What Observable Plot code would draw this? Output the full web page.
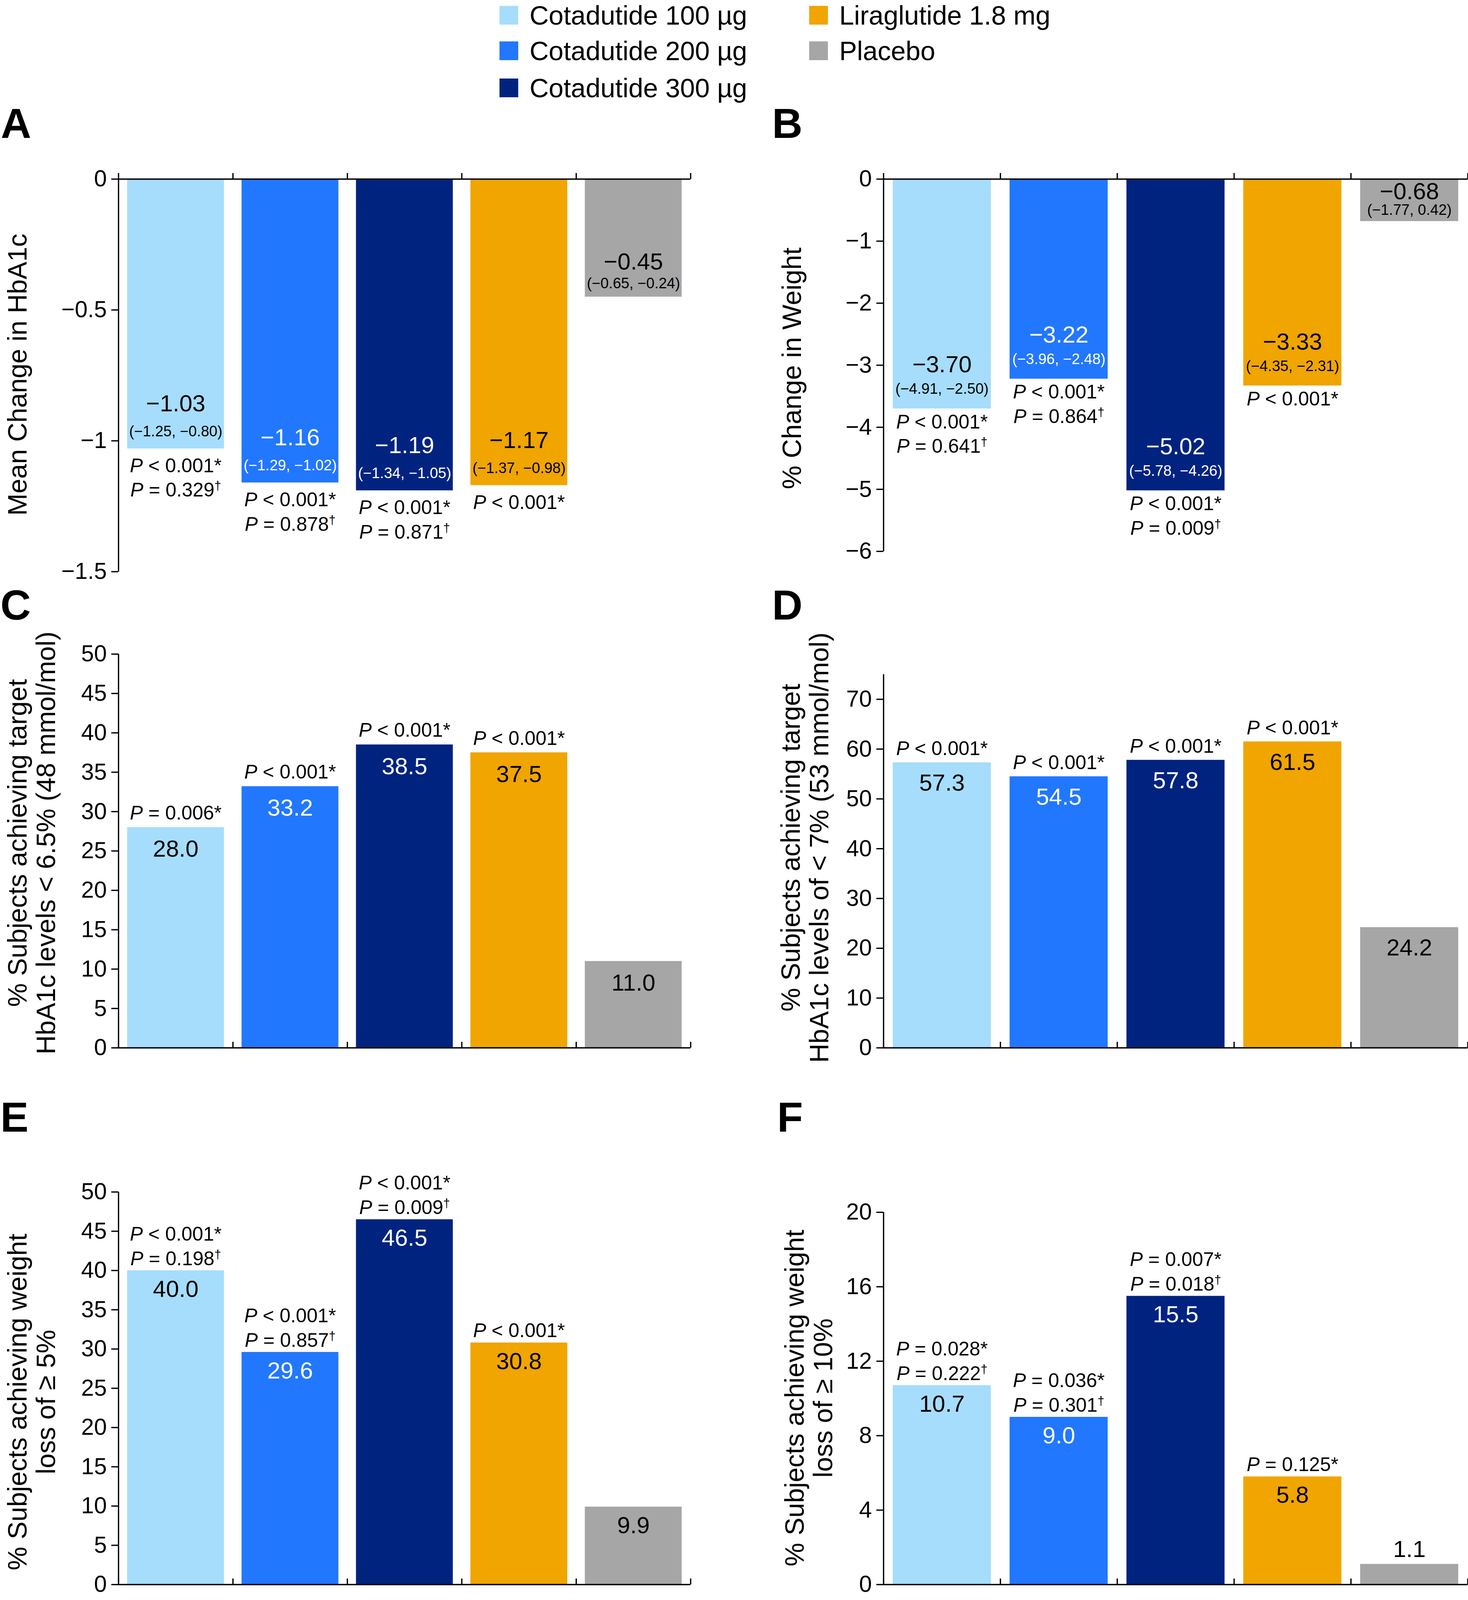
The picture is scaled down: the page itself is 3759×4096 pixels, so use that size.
<!DOCTYPE html>
<html>
<head>
<meta charset="utf-8">
<script src="https://cdn.jsdelivr.net/npm/d3@7"></script>
<script src="https://cdn.jsdelivr.net/npm/@observablehq/plot@0.6"></script>
<style>
  html, body { margin: 0; padding: 0; background: #ffffff; }
  #fig { position: relative; width: 3759px; height: 4096px; overflow: hidden;
         font-family: "Liberation Sans", Arial, Helvetica, sans-serif; color: #000; background: #fff; }
  .letter { position: absolute; font-weight: bold; font-size: 108px; line-height: 1; }
  .ytitle { position: absolute; font-size: 68px; line-height: 73px; white-space: pre; text-align: center;
            transform: translate(-50%, -50%) rotate(-90deg); }
  .leg { position: absolute; display: flex; align-items: center; font-size: 68px; line-height: 1; white-space: nowrap; height: 68px; }
  .leg .sw { display: inline-block; width: 48px; height: 48px; margin-right: 29px; }
</style>
</head>
<body>
<div id="fig"></div>
<script>
// ---------------- data ----------------
const groups = ["Cotadutide 100 µg", "Cotadutide 200 µg", "Cotadutide 300 µg", "Liraglutide 1.8 mg", "Placebo"];
const groupColors = ["#a6ddfc", "#2277ff", "#002380", "#f0a500", "#a6a6a6"];
const labelColors = ["#000000", "#ffffff", "#ffffff", "#000000", "#000000"];
const xTicks = [0, 1, 2, 3, 4, 5];

// A: mean change in HbA1c
const hba1cChange = [-1.03, -1.16, -1.19, -1.17, -0.45];
const hba1cCI = ["(−1.25, −0.80)", "(−1.29, −1.02)", "(−1.34, −1.05)", "(−1.37, −0.98)", "(−0.65, −0.24)"];
const hba1cP = ["P < 0.001*\nP = 0.329†", "P < 0.001*\nP = 0.878†", "P < 0.001*\nP = 0.871†", "P < 0.001*", ""];
const hba1cTicks = [0, -0.5, -1, -1.5];

// B: % change in weight
const weightChange = [-3.70, -3.22, -5.02, -3.33, -0.68];
const weightCI = ["(−4.91, −2.50)", "(−3.96, −2.48)", "(−5.78, −4.26)", "(−4.35, −2.31)", "(−1.77, 0.42)"];
const weightP = ["P < 0.001*\nP = 0.641†", "P < 0.001*\nP = 0.864†", "P < 0.001*\nP = 0.009†", "P < 0.001*", ""];
const weightTicks = [0, -1, -2, -3, -4, -5, -6];

// C: % achieving HbA1c < 6.5%
const target65 = [28.0, 33.2, 38.5, 37.5, 11.0];
const target65P = ["P = 0.006*", "P < 0.001*", "P < 0.001*", "P < 0.001*", ""];
const target65Ticks = [0, 5, 10, 15, 20, 25, 30, 35, 40, 45, 50];

// D: % achieving HbA1c < 7%
const target7 = [57.3, 54.5, 57.8, 61.5, 24.2];
const target7P = ["P < 0.001*", "P < 0.001*", "P < 0.001*", "P < 0.001*", ""];
const target7Ticks = [0, 10, 20, 30, 40, 50, 60, 70];

// E: % achieving weight loss >= 5%
const loss5 = [40.0, 29.6, 46.5, 30.8, 9.9];
const loss5P = ["P < 0.001*\nP = 0.198†", "P < 0.001*\nP = 0.857†", "P < 0.001*\nP = 0.009†", "P < 0.001*", ""];
const loss5Ticks = [0, 5, 10, 15, 20, 25, 30, 35, 40, 45, 50];

// F: % achieving weight loss >= 10%
const loss10 = [10.7, 9.0, 15.5, 5.8, 1.1];
const loss10P = ["P = 0.028*\nP = 0.222†", "P = 0.036*\nP = 0.301†", "P = 0.007*\nP = 0.018†", "P = 0.125*", ""];
const loss10Ticks = [0, 4, 8, 12, 16, 20];

// ---------------- layout ----------------
const fig = document.getElementById("fig");
const LEFT = {svgLeft: 0, width: 1800, marginLeft: 303, marginRight: 32, inset: 22.5};
const RIGHT = {svgLeft: 1940, width: 1819, marginLeft: 322, marginRight: 1, inset: 24};

const panels = [
  {...LEFT, letter: "A", title: "Mean Change in HbA1c", tx: 44, ty: 959,
   values: hba1cChange, ci: hba1cCI, pvals: hba1cP, ticks: hba1cTicks, domain: [-1.5, 0],
   svgTop: 300, height: 1200, marginTop: 158, marginBottom: 37,
   valueDy: -115, ciDy: -44, pDy: 16, placeboValueDy: -89, placeboCiDy: -34},
  {...RIGHT, letter: "B", title: "% Change in Weight", tx: 2027, ty: 943,
   values: weightChange, ci: weightCI, pvals: weightP, ticks: weightTicks, domain: [-6, 0],
   svgTop: 300, height: 1200, marginTop: 158, marginBottom: 89,
   valueDy: -112, ciDy: -50, pDy: 6, placeboValueDy: -76, placeboCiDy: -29},
  {...LEFT, letter: "C", title: "% Subjects achieving target\nHbA1c levels < 6.5% (48 mmol/mol)", tx: 81, ty: 2158,
   values: target65, pvals: target65P, ticks: target65Ticks, domain: [0, 50],
   svgTop: 1540, height: 1180, marginTop: 134, marginBottom: 38,
   valueDy: 56, pDy: -20},
  {...RIGHT, letter: "D", title: "% Subjects achieving target\nHbA1c levels of < 7% (53 mmol/mol)", tx: 2061, ty: 2170,
   values: target7, pvals: target7P, ticks: target7Ticks, domain: [0, 75],
   svgTop: 1540, height: 1180, marginTop: 186, marginBottom: 38,
   valueDy: 53, pDy: -19},
  {...LEFT, letter: "E", title: "% Subjects achieving weight\nloss of ≥ 5%", tx: 81, ty: 3589,
   values: loss5, pvals: loss5P, ticks: loss5Ticks, domain: [0, 50],
   svgTop: 2900, height: 1190, marginTop: 151, marginBottom: 34,
   valueDy: 48, pDy: -14},
  {...RIGHT, letter: "F", title: "% Subjects achieving weight\nloss of ≥ 10%", tx: 2071, ty: 3579,
   values: loss10, pvals: loss10P, ticks: loss10Ticks, domain: [0, 20],
   svgTop: 2900, height: 1190, marginTop: 203, marginBottom: 34,
   valueDy: 48, pDy: -14, shortAbove: true, aboveDy: -37}
];
const letterPos = {A: [2, 262], B: [1977, 262], C: [1, 1495], D: [1977, 1495], E: [1, 2806], F: [1990, 2806]};

const SW = 3.3;

// italic "P" and superscript dagger in the P-value labels
function styleP(svg) {
  const ns = "http://www.w3.org/2000/svg";
  svg.querySelectorAll("text").forEach(t => {
    if (!/^P [<=]/.test(t.textContent)) return;
    const spans = Array.from(t.querySelectorAll("tspan"));
    const targets = spans.length ? spans : [t];
    targets.forEach(el => {
      const s = el.textContent;
      if (!s || s[0] !== "P") return;
      while (el.firstChild) el.removeChild(el.firstChild);
      const it = document.createElementNS(ns, "tspan");
      it.setAttribute("font-style", "italic");
      it.textContent = "P";
      el.appendChild(it);
      let rest = s.slice(1);
      const dag = rest.endsWith("†");
      if (dag) rest = rest.slice(0, -1);
      el.appendChild(document.createTextNode(rest));
      if (dag) {
        const d = document.createElementNS(ns, "tspan");
        d.setAttribute("baseline-shift", "super");
        d.setAttribute("font-size", "0.62em");
        d.textContent = "†";
        el.appendChild(d);
      }
    });
  });
}

function makePanel(p) {
  const idx = d3.range(groups.length);
  const neg = p.domain[0] < 0;
  const fmt = d3.format(neg ? ".2f" : ".1f");
  const isPlacebo = i => groups[i] === "Placebo";
  const frameH = p.height - p.marginTop - p.marginBottom;
  const span = p.domain[1] - p.domain[0];
  const barPx = i => Math.abs(p.values[i]) / span * frameH;
  const above = idx.filter(i => p.shortAbove && barPx(i) < 120);
  const inside = idx.filter(i => !above.includes(i));
  const regular = neg ? inside.filter(i => !isPlacebo(i)) : inside;
  const small = neg ? inside.filter(isPlacebo) : [];
  const cx = i => i + 0.5;
  const vy = i => p.values[i];

  const marks = [
    Plot.rect(idx, {x1: i => i, x2: i => i + 1, y1: 0, y2: vy, fill: i => groupColors[i],
                    insetLeft: p.inset, insetRight: p.inset}),
    Plot.ruleY([0], {stroke: "black", strokeWidth: SW}),
    Plot.ruleX([0], {stroke: "black", strokeWidth: SW}),
    Plot.ruleX(xTicks, {x: d => d, y1: 0, y2: 0, insetTop: -15, stroke: "black", strokeWidth: SW}),
    Plot.axisY({ticks: p.ticks, tickFormat: d3.format(""), tickSize: 18, tickPadding: 12,
                strokeWidth: SW, fontSize: 59, label: null, fill: "black"}),
    Plot.text(regular, {x: cx, y: vy, text: i => fmt(p.values[i]), fill: i => labelColors[i],
                        fontSize: 60, dy: p.valueDy})
  ];
  if (neg) {
    marks.push(Plot.text(regular, {x: cx, y: vy, text: i => p.ci[i], fill: i => labelColors[i], fontSize: 38, dy: p.ciDy}));
    marks.push(Plot.text(small, {x: cx, y: vy, text: i => fmt(p.values[i]), fill: i => labelColors[i], fontSize: 60, dy: p.placeboValueDy}));
    marks.push(Plot.text(small, {x: cx, y: vy, text: i => p.ci[i], fill: i => labelColors[i], fontSize: 38, dy: p.placeboCiDy}));
  }
  if (above.length) {
    marks.push(Plot.text(above, {x: cx, y: vy, text: i => fmt(p.values[i]), fill: "black", fontSize: 60, dy: p.aboveDy}));
  }
  marks.push(Plot.text(idx.filter(i => p.pvals[i]), {
    x: cx, y: vy, text: i => p.pvals[i], fill: "black", fontSize: 50, lineHeight: 1.25,
    lineAnchor: neg ? "top" : "bottom", dy: p.pDy
  }));

  const svg = Plot.plot({
    width: p.width, height: p.height,
    marginLeft: p.marginLeft, marginRight: p.marginRight, marginTop: p.marginTop, marginBottom: p.marginBottom,
    x: {domain: [0, 5], axis: null},
    y: {domain: p.domain},
    style: {position: "absolute", left: p.svgLeft + "px", top: p.svgTop + "px", overflow: "visible",
            fontFamily: '"Liberation Sans", Arial, Helvetica, sans-serif', fontSize: "59px",
            color: "black", background: "transparent"},
    marks
  });
  styleP(svg);
  fig.appendChild(svg);

  const L = document.createElement("div");
  L.className = "letter";
  L.textContent = p.letter;
  L.style.left = letterPos[p.letter][0] + "px";
  L.style.top = letterPos[p.letter][1] + "px";
  fig.appendChild(L);

  const T = document.createElement("div");
  T.className = "ytitle";
  T.textContent = p.title;
  T.style.left = p.tx + "px";
  T.style.top = p.ty + "px";
  fig.appendChild(T);
}

panels.forEach(makePanel);

// legend
const legCols = [1279, 2072];
const legRows = [39, 130, 225];
groups.forEach((g, i) => {
  const col = i < 3 ? 0 : 1;
  const row = i < 3 ? i : i - 3;
  const d = document.createElement("div");
  d.className = "leg";
  d.style.left = legCols[col] + "px";
  d.style.top = (legRows[row] - 34) + "px";
  const sw = document.createElement("span");
  sw.className = "sw";
  sw.style.background = groupColors[i];
  const tx = document.createElement("span");
  tx.textContent = g;
  d.appendChild(sw);
  d.appendChild(tx);
  fig.appendChild(d);
});
</script>
</body>
</html>
